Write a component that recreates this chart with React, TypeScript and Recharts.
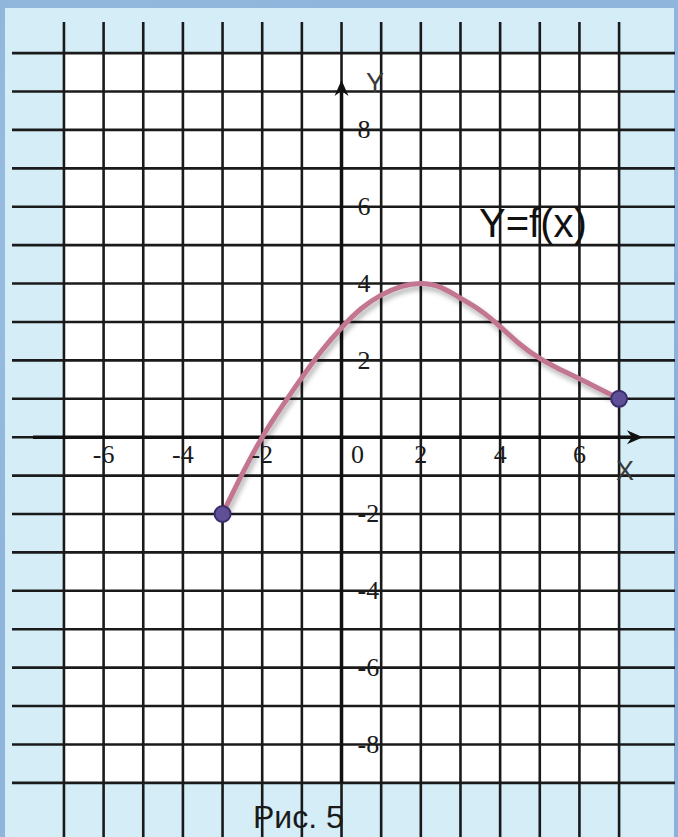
import React from 'react';
import {
  ComposedChart,
  Line,
  Scatter,
  XAxis,
  YAxis,
  CartesianGrid,
  ReferenceLine,
  ReferenceArea,
  ReferenceDot,
} from 'recharts';

const W = 678;
const H = 837;

// grid lines, one per unit
const GRID_X: number[] = [-7, -6, -5, -4, -3, -2, -1, 0, 1, 2, 3, 4, 5, 6, 7];
const GRID_Y: number[] = [-9, -8, -7, -6, -5, -4, -3, -2, -1, 0, 1, 2, 3, 4, 5, 6, 7, 8, 9, 10];

// numbers written along the axes
const X_LABELS: number[] = [-6, -4, -2, 2, 4, 6];
const Y_LABELS: number[] = [8, 6, 4, 2, -2, -4, -6, -8];

// the graph of y = f(x)
const CURVE_X: number[] = [-3, -2.5, -2, -1.5, -1, -0.5, 0, 0.5, 1, 1.5, 2, 2.5, 3, 3.5, 4, 4.5, 5, 5.5, 6, 6.5, 7];
const CURVE_Y: number[] = [-2, -0.95, 0, 0.8, 1.55, 2.25, 2.85, 3.35, 3.7, 3.92, 4, 3.9, 3.62, 3.3, 2.88, 2.42, 2.05, 1.77, 1.52, 1.26, 1];

const X_DOMAIN: [number, number] = [-8.31, 8.41];
const Y_DOMAIN: [number, number] = [-10.41, 10.81];

const curve = CURVE_X.map((x, i) => ({ x, y: CURVE_Y[i] }));
const ends = [curve[0], curve[curve.length - 1]];

const INK = '#1a1a1a';
const SERIF = '"Liberation Serif", "DejaVu Serif", serif';
const SANS = '"Liberation Sans", Arial, sans-serif';

// axis line with a filled arrowhead at (x2, y2)
const ArrowAxis = (props: any) => {
  const { x1, y1, x2, y2 } = props;
  const dx = x2 - x1;
  const dy = y2 - y1;
  const len = Math.hypot(dx, dy) || 1;
  const ux = dx / len;
  const uy = dy / len;
  const px = -uy;
  const py = ux;
  const head = 16;
  const half = 7;
  const bx = x2 - ux * head;
  const by = y2 - uy * head;
  return (
    <g>
      <line x1={x1} y1={y1} x2={bx + ux * 4} y2={by + uy * 4} stroke="#111" strokeWidth={3.5} />
      <path
        d={`M${x2},${y2} L${bx + px * half},${by + py * half} L${bx + ux * 5},${by + uy * 5} L${bx - px * half},${by - py * half} Z`}
        fill="#111"
      />
    </g>
  );
};

const xTick = (v: number, dx = 0) => (p: any) => (
  <text
    x={p.cx + dx}
    y={p.cy + 17}
    textAnchor="middle"
    dominantBaseline="central"
    fontFamily={SERIF}
    fontSize={26}
    fill={INK}
  >
    {v}
  </text>
);

const yTick = (v: number) => (p: any) => (
  <text
    x={p.cx + 16}
    y={p.cy}
    textAnchor="start"
    dominantBaseline="central"
    fontFamily={SERIF}
    fontSize={26}
    fill={INK}
  >
    {v}
  </text>
);

const EndDot = (p: any) => (
  <circle cx={p.cx} cy={p.cy} r={8} fill="#5f4f96" stroke="#3b2d6b" strokeWidth={2} />
);

export default function App() {
  return (
    <div
      style={{
        position: 'absolute',
        left: 0,
        top: 0,
        width: W,
        height: H,
        overflow: 'hidden',
        background:
          'radial-gradient(circle at 20% 30%, #9cc0e2 0%, transparent 40%), radial-gradient(circle at 80% 70%, #84aad4 0%, transparent 45%), #8fb5dc',
      }}
    >
      <div style={{ position: 'absolute', left: 5, top: 8, right: 4, bottom: 0, background: '#d4edf6' }} />
      <div style={{ position: 'absolute', left: 0, top: 0 }}>
        <ComposedChart width={W} height={H} data={curve} margin={{ top: 22, right: 3, bottom: 0, left: 12 }}>
          <defs>
            <filter id="curveShadow" x="-10%" y="-10%" width="125%" height="135%">
              <feDropShadow dx="2" dy="4" stdDeviation="2.5" floodColor="#000" floodOpacity="0.3" />
            </filter>
          </defs>
          <XAxis type="number" dataKey="x" domain={X_DOMAIN} ticks={GRID_X} allowDataOverflow hide />
          <YAxis type="number" dataKey="y" domain={Y_DOMAIN} ticks={GRID_Y} allowDataOverflow hide />
          {/* white sheet under the grid */}
          <ReferenceArea
            x1={-7}
            x2={7}
            y1={-9}
            y2={10}
            fill="#ffffff"
            fillOpacity={1}
            stroke="none"
            ifOverflow="visible"
            zIndex={-150}
          />
          <CartesianGrid stroke={INK} strokeWidth={2.6} verticalValues={GRID_X} horizontalValues={GRID_Y} />
          <ReferenceLine segment={[{ x: -7.78, y: 0 }, { x: 7.6, y: 0 }]} shape={ArrowAxis} ifOverflow="visible" />
          <ReferenceLine segment={[{ x: 0, y: -9 }, { x: 0, y: 9.3 }]} shape={ArrowAxis} ifOverflow="visible" />
          {X_LABELS.map((v) => (
            <ReferenceDot key={`x${v}`} x={v} y={0} r={0} shape={xTick(v)} />
          ))}
          <ReferenceDot x={0} y={0} r={0} shape={xTick(0, 16)} />
          {Y_LABELS.map((v) => (
            <ReferenceDot key={`y${v}`} x={0} y={v} r={0} shape={yTick(v)} />
          ))}
          <Line
            type="natural"
            dataKey="y"
            stroke="#c27691"
            strokeWidth={5}
            dot={false}
            activeDot={false}
            filter="url(#curveShadow)"
            isAnimationActive={false}
          />
          <Scatter data={ends} dataKey="y" shape={EndDot} isAnimationActive={false} />
        </ComposedChart>
      </div>
      <svg
        width={W}
        height={H}
        style={{ position: 'absolute', left: 0, top: 0, pointerEvents: 'none' }}
      >
        <text x={375} y={92} textAnchor="middle" fontFamily={SANS} fontSize={27} fill="#3a3a3a">Y</text>
        <text x={625} y={480} textAnchor="middle" fontFamily={SANS} fontSize={27} fill="#3a3a3a">X</text>
        <text x={479} y={237} fontFamily={SANS} fontSize={40} fill="#111">Y=f(x)</text>
        <text x={253} y={828} fontFamily={SANS} fontSize={32} fill={INK}>Рис. 5</text>
      </svg>
    </div>
  );
}
